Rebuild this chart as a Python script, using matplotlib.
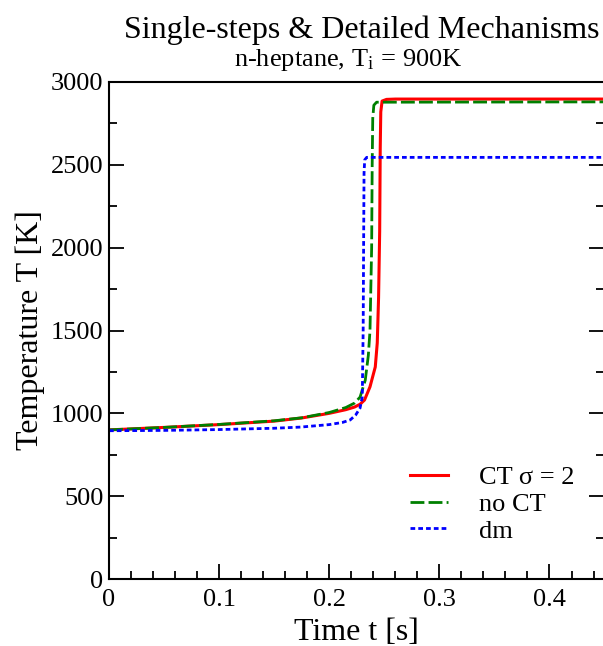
import matplotlib
matplotlib.use("Agg")
import matplotlib.pyplot as plt
from matplotlib.ticker import MultipleLocator

plt.rcParams['font.family'] = ['Liberation Serif', 'DejaVu Serif']
plt.rcParams['mathtext.fontset'] = 'stix'

# Data
t_ct = [0, 0.05, 0.1, 0.15, 0.175, 0.2, 0.215, 0.223, 0.228, 0.232, 0.237, 0.2418, 0.2436, 0.2448, 0.2458, 0.2463, 0.2468, 0.248, 0.252, 0.26, 0.45]
T_ct = [900, 915, 932, 953, 972, 1000, 1022, 1038, 1055, 1080, 1160, 1280, 1425, 1700, 2100, 2600, 2820, 2885, 2895, 2897, 2897]

t_noct = [0, 0.05, 0.1, 0.15, 0.175, 0.2, 0.215, 0.223, 0.228, 0.2327, 0.2355, 0.237, 0.2385, 0.239, 0.2395, 0.2405, 0.243, 0.45]
T_noct = [900, 915, 933, 955, 973, 1005, 1035, 1062, 1098, 1200, 1350, 1500, 2000, 2500, 2780, 2860, 2878, 2880]

t_dm = [0, 0.05, 0.1, 0.15, 0.174, 0.2, 0.212, 0.219, 0.224, 0.228, 0.230, 0.2308, 0.2312, 0.2316, 0.2322, 0.234, 0.45]
T_dm = [895, 897, 902, 910, 917, 932, 945, 960, 990, 1032, 1100, 1500, 2000, 2450, 2530, 2545, 2545]

labels = ['CT σ = 2', 'no CT', 'dm']
xticks = [0, 0.1, 0.2, 0.3, 0.4]
xticklabels = ['0', '0.1', '0.2', '0.3', '0.4']

fig = plt.figure(figsize=(6.03, 6.46), dpi=100)
ax = fig.add_axes([109/603, (646-579)/646, (604-109)/603, (579-82)/646])

ax.plot(t_ct, T_ct, color='#ff0000', lw=2.2, label=labels[0])
ax.plot(t_noct, T_noct, color='#008000', lw=2.0, ls=(0, (5, 1.5)), label=labels[1])
ax.plot(t_dm, T_dm, color='#0000ff', lw=2.0, ls=(0, (1.7, 1.1)), label=labels[2])

ax.set_xlim(0, 0.4495)
ax.set_ylim(0, 3000)
ax.xaxis.set_minor_locator(MultipleLocator(0.02))
ax.yaxis.set_major_locator(MultipleLocator(500))
ax.yaxis.set_minor_locator(MultipleLocator(250))
ax.set_xticks(xticks)
ax.set_xticklabels(xticklabels)
ax.tick_params(which='both', direction='in', top=False, right=True, labelsize=19, width=1.3)
ax.tick_params(which='major', length=11)
ax.tick_params(axis='x', which='major', pad=7)
ax.tick_params(axis='y', which='major', pad=4)
ax.tick_params(which='minor', length=6)
for s in ax.spines.values():
    s.set_linewidth(1.5)

ax.set_xlabel('Time t [s]', fontsize=23, labelpad=5)
ax.set_ylabel('Temperature T [K]', fontsize=23, labelpad=4)

fig.text(0.6, 0.953, 'Single-steps & Detailed Mechanisms', ha='center', va='center', fontsize=23)
fig.text(0.578, 0.907, r'n-heptane, T$_\mathregular{i}$ = 900K', ha='center', va='center', fontsize=19)

leg = ax.legend(loc='lower left', bbox_to_anchor=(0.608, 0.073), frameon=False, fontsize=19,
                handlelength=1.45, handletextpad=1.15, labelspacing=0.12,
                borderpad=0, borderaxespad=0)

fig.savefig('out.png', dpi=100)
